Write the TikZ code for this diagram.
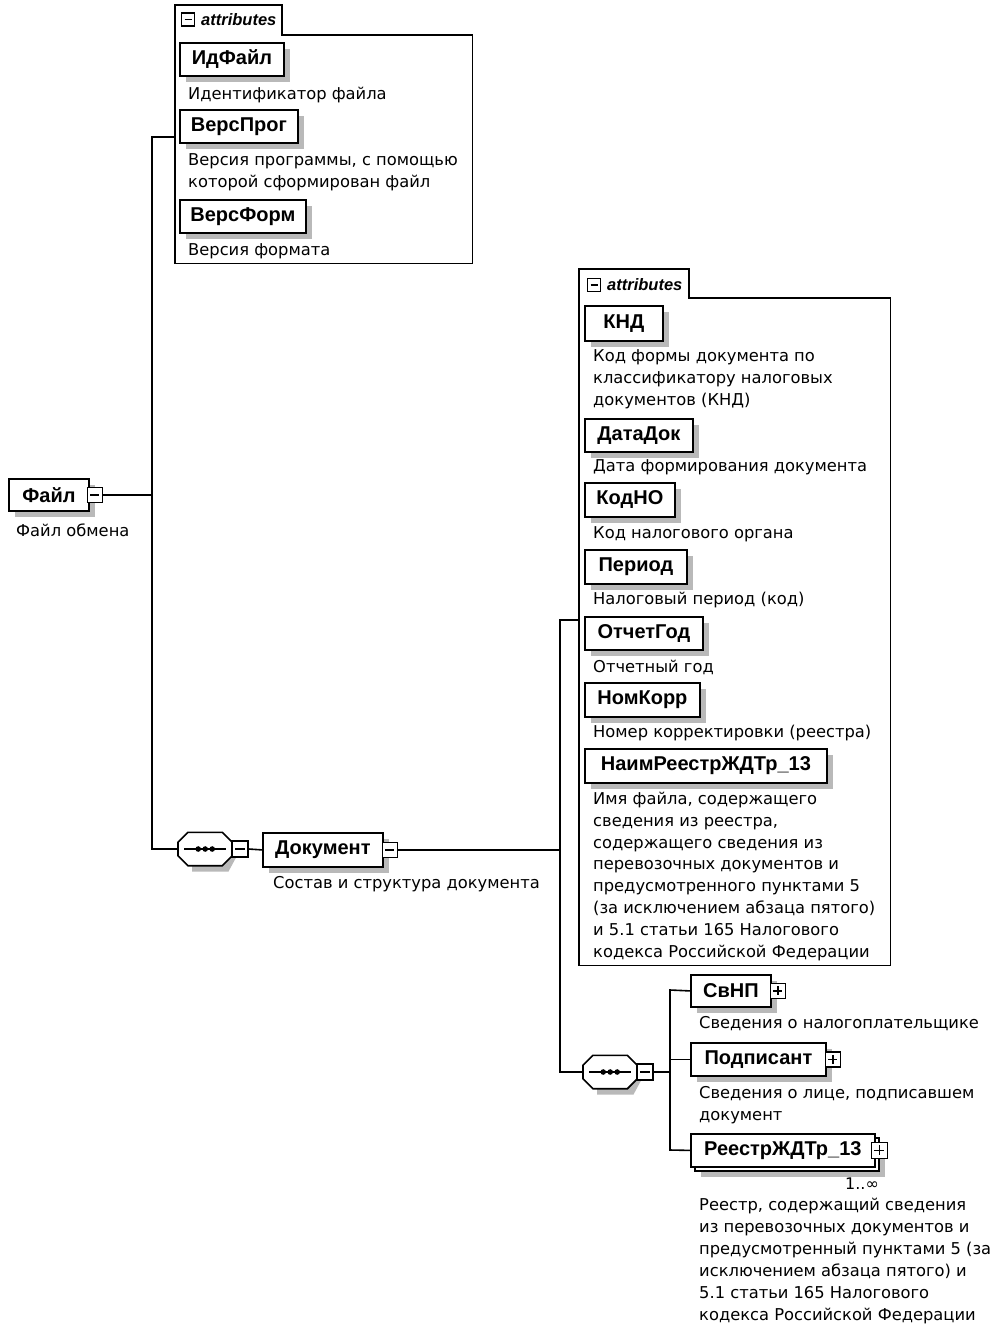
\documentclass[tikz,border=0pt]{standalone}
\usepackage{fontspec}
\setmainfont{Liberation Sans}
\newfontfamily\descfont{DejaVu Sans}
\usetikzlibrary{shadows,calc}
\begin{document}
\begin{tikzpicture}[x=1pt,y=-1pt,
 conn/.style={line width=1.6pt},
 elembase/.style={draw, line width=1.8pt, fill=white, font=\bfseries\fontsize{20}{20}\selectfont, minimum height=33pt, inner sep=0pt, anchor=north west},
 elem/.style={elembase, drop shadow={shadow xshift=6pt, shadow yshift=-6pt, fill=gray!55, opacity=1}},
 desc/.style={anchor=north west, inner sep=0pt, align=left, font=\descfont\fontsize{16.3}{22}\selectfont},
 minusbox/.style={draw, line width=1.3pt, fill=white, minimum size=15pt, inner sep=0pt, anchor=west,
   path picture={\draw[line width=1.4pt] ([xshift=3pt]path picture bounding box.west) -- ([xshift=-3pt]path picture bounding box.east);}},
 plusbox/.style={draw, line width=1.3pt, fill=white, minimum size=15pt, inner sep=0pt, anchor=west,
   path picture={\draw[line width=1.4pt] ([xshift=3pt]path picture bounding box.west) -- ([xshift=-3pt]path picture bounding box.east);
   \draw[line width=1.4pt] ([yshift=-3pt]path picture bounding box.north) -- ([yshift=3pt]path picture bounding box.south);}},
 seqnode/.style={minimum width=54pt, minimum height=33pt, inner sep=0pt, anchor=west},
 octo/.style={line width=1.6pt, fill=white},
 octoshadow/.style={fill=gray!55},
 attbox/.style={anchor=north west, inner sep=0pt},
 attline/.style={line width=1.5pt},
 attlabel/.style={anchor=west, inner sep=0pt, font=\bfseries\itshape\fontsize{16.5}{16.5}\selectfont},
 mult/.style={anchor=north west, inner sep=0pt, font=\descfont\fontsize{16}{16}\selectfont}
]
\useasboundingbox (0,0) rectangle (1000,1334);

% ---------- attributes box 1 ----------
\node[attbox, minimum width=297pt, minimum height=228pt] (att1) at (175,35) {};
\coordinate (tab1) at (282,5);
\draw[attline] (att1.south west) -- (att1.south west |- tab1) -- (tab1) -- (tab1 |- att1.north) -- (att1.north east) -- (att1.south east) -- cycle;
\node[minusbox, minimum size=13pt] (att1m) at (181,19.5) {};
\node[attlabel] (att1l) at (201,19.5) {attributes};

\node[elem, minimum width=104pt] (idf) at (179,42) {ИдФайл};
\node[desc] (idfd) at (188,87) {Идентификатор файла};
\node[elem, minimum width=118pt] (vprog) at (179,109) {ВерсПрог};
\node[desc] (vprogd) at (188,153) {Версия программы, с помощью\\которой сформирован файл};
\node[elem, minimum width=126pt] (vform) at (179,199) {ВерсФорм};
\node[desc] (vformd) at (188,243) {Версия формата};

% ---------- root ----------
\node[elem, minimum width=80pt, minimum height=32pt] (file) at (8,478) {Файл};
\node[minusbox] (filem) at ([xshift=-3pt]file.east) {};
\node[desc] (filed) at (16,524) {Файл обмена};

% ---------- sequence 1 ----------
\node[seqnode] (seq1) at (178,849) {};
\fill[octoshadow] ($(seq1.north west)+(14,6)$) -- ($(seq1.north east)+(-4,6)$) -- ($(seq1.east)+(5,6)$) -- ($(seq1.south east)+(-4,6)$) -- ($(seq1.south west)+(14,6)$) -- cycle;
\draw[octo] ($(seq1.north west)+(10,0)$) -- ($(seq1.north east)+(-10,0)$) -- ($(seq1.north east)+(0,10)$) -- ($(seq1.south east)+(0,-10)$) -- ($(seq1.south east)+(-10,0)$) -- ($(seq1.south west)+(10,0)$) -- ($(seq1.south west)+(0,-10)$) -- ($(seq1.north west)+(0,10)$) -- cycle;
\draw[conn] ([xshift=6pt]seq1.west) -- ([xshift=-6pt]seq1.east);
\fill (seq1.center) circle (2.8pt) ([xshift=-7pt]seq1.center) circle (2.8pt) ([xshift=7pt]seq1.center) circle (2.8pt);
\node[minusbox, minimum size=16pt] (seq1m) at ([xshift=-1pt]seq1.east) {};

\node[elem, minimum width=120pt, minimum height=34pt] (doc) at (262,832) {Документ};
\node[minusbox] (docm) at ([xshift=-2pt]doc.east) {};
\node[desc] (docd) at (273,876) {Состав и структура документа};

% ---------- attributes box 2 ----------
\node[attbox, minimum width=311pt, minimum height=667pt] (att2) at (579,298) {};
\coordinate (tab2) at (689,269);
\draw[attline] (att2.south west) -- (att2.south west |- tab2) -- (tab2) -- (tab2 |- att2.north) -- (att2.north east) -- (att2.south east) -- cycle;
\node[minusbox, minimum size=13pt] (att2m) at (587,285) {};
\node[attlabel] (att2l) at (607,285) {attributes};

\node[elem, minimum width=78pt, minimum height=35pt] (knd) at (584,305) {КНД};
\node[desc] (kndd) at (593,349) {Код формы документа по\\классификатору налоговых\\документов (КНД)};
\node[elem, minimum width=108pt] (datadok) at (584,418) {ДатаДок};
\node[desc] (datadokd) at (593,459) {Дата формирования документа};
\node[elem, minimum width=90pt, minimum height=34pt] (kodno) at (584,482) {КодНО};
\node[desc] (kodnod) at (593,526) {Код налогового органа};
\node[elem, minimum width=102pt, minimum height=34pt] (period) at (584,549) {Период};
\node[desc] (periodd) at (593,592) {Налоговый период (код)};
\node[elem, minimum width=118pt] (otchgod) at (584,616) {ОтчетГод};
\node[desc] (otchgodd) at (593,660) {Отчетный год};
\node[elem, minimum width=115pt, minimum height=34pt] (nomkorr) at (584,682) {НомКорр};
\node[desc] (nomkorrd) at (593,725) {Номер корректировки (реестра)};
\node[elem, minimum width=242pt, minimum height=34pt] (naim) at (584,748) {НаимРеестрЖДТр\_13};
\node[desc, font=\descfont\fontsize{16.3}{21.8}\selectfont] (naimd) at (593,792) {Имя файла, содержащего\\сведения из реестра,\\содержащего сведения из\\перевозочных документов и\\предусмотренного пунктами 5\\(за исключением абзаца пятого)\\и 5.1 статьи 165 Налогового\\кодекса Российской Федерации};

% ---------- sequence 2 ----------
\node[seqnode] (seq2) at (583,1072) {};
\fill[octoshadow] ($(seq2.north west)+(14,6)$) -- ($(seq2.north east)+(-4,6)$) -- ($(seq2.east)+(5,6)$) -- ($(seq2.south east)+(-4,6)$) -- ($(seq2.south west)+(14,6)$) -- cycle;
\draw[octo] ($(seq2.north west)+(10,0)$) -- ($(seq2.north east)+(-10,0)$) -- ($(seq2.north east)+(0,10)$) -- ($(seq2.south east)+(0,-10)$) -- ($(seq2.south east)+(-10,0)$) -- ($(seq2.south west)+(10,0)$) -- ($(seq2.south west)+(0,-10)$) -- ($(seq2.north west)+(0,10)$) -- cycle;
\draw[conn] ([xshift=6pt]seq2.west) -- ([xshift=-6pt]seq2.east);
\fill (seq2.center) circle (2.8pt) ([xshift=-7pt]seq2.center) circle (2.8pt) ([xshift=7pt]seq2.center) circle (2.8pt);
\node[minusbox, minimum size=16pt] (seq2m) at ([xshift=-1pt]seq2.east) {};

\node[elem, minimum width=80pt, minimum height=32pt] (svnp) at (690,974) {СвНП};
\node[plusbox] (svnpp) at ([xshift=-2pt]svnp.east) {};
\node[desc] (svnpd) at (699,1016) {Сведения о налогоплательщике};

\node[elem, minimum width=135pt] (podp) at (690,1042) {Подписант};
\node[plusbox] (podpp) at ([xshift=-2pt]podp.east) {};
\node[desc] (podpd) at (699,1086) {Сведения о лице, подписавшем\\документ};

\node[elem, minimum width=184pt] (reestrb) at (694,1137) {};
\node[elembase, minimum width=184pt] (reestr) at (690,1133) {РеестрЖДТр\_13};
\node[plusbox, minimum size=16pt] (reestrp) at ([xshift=-5pt]reestr.east) {};
\node[mult] (reestrmul) at (845,1178) {1..∞};
\node[desc] (reestrd) at (699,1198) {Реестр, содержащий сведения\\из перевозочных документов и\\предусмотренный пунктами 5 (за\\исключением абзаца пятого) и\\5.1 статьи 165 Налогового\\кодекса Российской Федерации};

% ---------- connectors ----------
\coordinate (b1top) at (152,137);
\coordinate (b1bot) at (152,849);
\draw[conn] (filem.east) -- (filem.east -| b1top);
\draw[conn] (att1.west |- b1top) -- (b1top) -- (b1bot) -- (seq1.west);
\draw[conn] (seq1m.east) -- (doc.west);

\coordinate (b2top) at (560,620);
\coordinate (b2bot) at (560,1072);
\draw[conn] (docm.east) -- (docm.east -| b2top);
\draw[conn] (att2.west |- b2top) -- (b2top) -- (b2bot) -- (seq2.west);

\coordinate (b3top) at (670,990);
\coordinate (b3bot) at (670,1150);
\draw[conn] (seq2m.east) -- (seq2m.east -| b3top);
\draw[conn] (svnp.west) -- (b3top) -- (b3bot) -- (reestr.west);
\draw[conn] (podp.west) -- (podp.west -| b3top);
\end{tikzpicture}
\end{document}
